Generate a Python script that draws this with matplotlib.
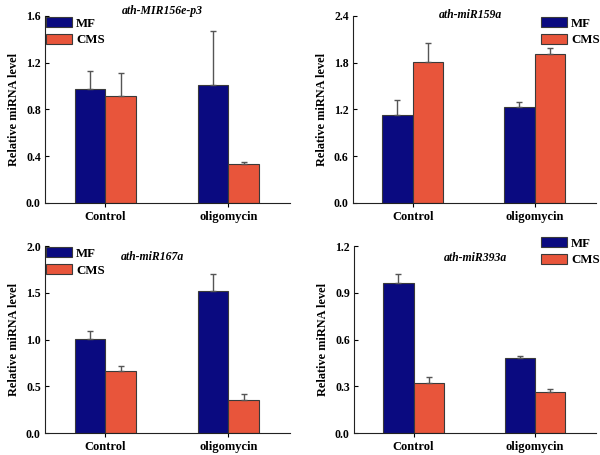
import numpy as np
import matplotlib.pyplot as plt
from matplotlib.patches import Patch

plt.rcParams['font.family'] = ['Liberation Serif', 'DejaVu Serif']
plt.rcParams['font.weight'] = 'bold'

groups = ['Control', 'oligomycin']
titles = ['ath-MIR156e-p3', 'ath-miR159a', 'ath-miR167a', 'ath-miR393a']

mf_vals = [[0.977, 1.005], [1.123, 1.234], [1.004, 1.52], [0.965, 0.483]]
mf_err = [[0.148, 0.47], [0.201, 0.056], [0.085, 0.185], [0.054, 0.014]]
cms_vals = [[0.911, 0.333], [1.806, 1.909], [0.669, 0.359], [0.32, 0.267]]
cms_err = [[0.199, 0.017], [0.244, 0.076], [0.05, 0.057], [0.041, 0.015]]

ymax = [1.6, 2.4, 2.0, 1.2]
yticks = [[0.0, 0.4, 0.8, 1.2, 1.6],
          [0.0, 0.6, 1.2, 1.8, 2.4],
          [0.0, 0.5, 1.0, 1.5, 2.0],
          [0.0, 0.3, 0.6, 0.9, 1.2]]

mf_color = '#0a0a80'
cms_color = '#e8553b'
edge = '#3a3a3a'

fig = plt.figure(figsize=(6, 4.55), dpi=100)

# axes rectangles in figure fractions
rects = [[0.075, 0.554, 0.408, 0.411],
         [0.588, 0.554, 0.405, 0.411],
         [0.075, 0.048, 0.408, 0.411],
         [0.590, 0.048, 0.403, 0.411]]

# title positions (axes coords, top of text) and legend anchors
title_pos = [(0.48, 1.06), (0.486, 1.035), (0.44, 0.975), (0.504, 0.968)]
leg_anchor = [(0.0, 1.0), (0.77, 1.0), (0.0, 1.0), (0.77, 1.055)]

x = np.arange(len(groups))
w = 0.25
ekw = dict(ecolor='#555555', elinewidth=1, capsize=2.5, capthick=1)

for i in range(4):
    ax = fig.add_axes(rects[i])
    ax.bar(x - w / 2, mf_vals[i], w, color=mf_color, edgecolor=edge, linewidth=0.8,
           yerr=[[0, 0], mf_err[i]], error_kw=ekw)
    ax.bar(x + w / 2, cms_vals[i], w, color=cms_color, edgecolor=edge, linewidth=0.8,
           yerr=[[0, 0], cms_err[i]], error_kw=ekw)
    ax.set_xlim(-0.49, 1.5)
    ax.set_ylim(0, ymax[i])
    ax.set_yticks(yticks[i])
    ax.set_yticklabels(['%.1f' % t for t in yticks[i]])
    ax.set_xticks(x)
    ax.set_xticklabels(groups)
    ax.spines['top'].set_visible(False)
    ax.spines['right'].set_visible(False)
    ax.spines['left'].set_color('#222222')
    ax.spines['bottom'].set_color('#222222')
    ax.tick_params(axis='y', direction='in', length=3, labelsize=8.5, pad=3)
    ax.tick_params(axis='x', direction='out', length=3, labelsize=9, pad=3)
    ax.set_ylabel('Relative miRNA level', fontsize=8.8, fontweight='bold', labelpad=4)
    ax.text(title_pos[i][0], title_pos[i][1], titles[i], transform=ax.transAxes,
            ha='center', va='top', fontsize=8.5,
            fontstyle='italic', fontweight='bold')
    handles = [Patch(facecolor=mf_color, edgecolor=edge, linewidth=0.8, label='MF'),
               Patch(facecolor=cms_color, edgecolor=edge, linewidth=0.8, label='CMS')]
    ax.legend(handles=handles, loc='upper left', bbox_to_anchor=leg_anchor[i],
              frameon=False, fontsize=9.3, handlelength=2.0, handleheight=0.78,
              handletextpad=0.3, labelspacing=0.35, borderaxespad=0, borderpad=0.1)

fig.savefig('out.png', dpi=100)
